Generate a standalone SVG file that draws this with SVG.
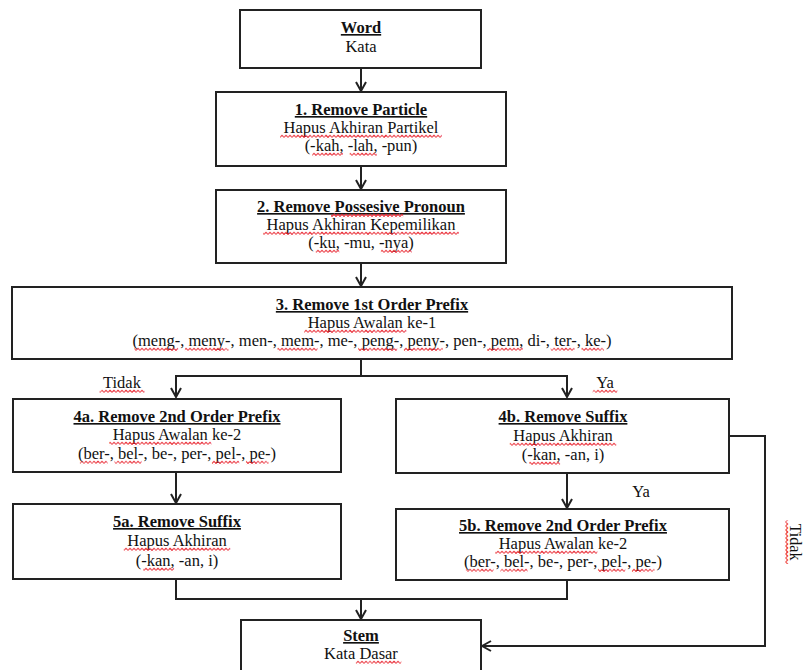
<svg xmlns="http://www.w3.org/2000/svg" xmlns:xlink="http://www.w3.org/1999/xlink" width="804" height="670" viewBox="0 0 804 670">
<style>
text{font-family:"Liberation Serif","Times New Roman",serif;font-size:16.5px;fill:var(--tf,#111);stroke:none;text-anchor:middle}
.t{font-weight:bold;text-decoration:underline}
.sp{stroke:url(#wv);stroke-width:var(--sw,0);text-decoration-line:var(--td,none)}
.sq{--tf:none;--sw:7px;--td:underline}
.box{fill:#fff;stroke:#222;stroke-width:2}
.ln{fill:none;stroke:#222;stroke-width:2}
</style>
<defs>
<marker id="ah" viewBox="0 0 12 12" refX="11" refY="6" markerWidth="12" markerHeight="12" markerUnits="userSpaceOnUse" orient="auto">
<path d="M2,1 L11,6 L2,11" fill="none" stroke="#222" stroke-width="2"/>
</marker>
<pattern id="wv" patternUnits="userSpaceOnUse" x="0" y="1.5" width="4" height="4">
<path d="M0,3 L2,0.8 L4,3" fill="none" stroke="#e8202a" stroke-width="0.9"/>
</pattern>
<clipPath id="c133"><rect x="0" y="134.5" width="804" height="4"/></clipPath>
<clipPath id="c151"><rect x="0" y="152.5" width="804" height="4"/></clipPath>
<clipPath id="c212"><rect x="0" y="213.5" width="804" height="4"/></clipPath>
<clipPath id="c230"><rect x="0" y="231.5" width="804" height="4"/></clipPath>
<clipPath id="c248"><rect x="0" y="249.5" width="804" height="4"/></clipPath>
<clipPath id="c328"><rect x="0" y="329.5" width="804" height="4"/></clipPath>
<clipPath id="c346"><rect x="0" y="347.5" width="804" height="4"/></clipPath>
<clipPath id="c388"><rect x="0" y="389.5" width="804" height="4"/></clipPath>
<clipPath id="c440"><rect x="0" y="441.5" width="804" height="4"/></clipPath>
<clipPath id="c441"><rect x="0" y="442.5" width="804" height="4"/></clipPath>
<clipPath id="c459"><rect x="0" y="460.5" width="804" height="4"/></clipPath>
<clipPath id="c460"><rect x="0" y="461.5" width="804" height="4"/></clipPath>
<clipPath id="c546"><rect x="0" y="547.5" width="804" height="4"/></clipPath>
<clipPath id="c566"><rect x="0" y="567.5" width="804" height="4"/></clipPath>
<clipPath id="c549"><rect x="0" y="550.5" width="804" height="4"/></clipPath>
<clipPath id="c567"><rect x="0" y="568.5" width="804" height="4"/></clipPath>
<clipPath id="c659"><rect x="0" y="660.5" width="804" height="4"/></clipPath>
<clipPath id="crot"><rect x="784.5" y="500" width="4" height="90"/></clipPath>
</defs>
<g id="connectors">
<path class="ln" d="M361,68 V91" marker-end="url(#ah)"/>
<path class="ln" d="M361,166 V189" marker-end="url(#ah)"/>
<path class="ln" d="M361,263 V286" marker-end="url(#ah)"/>
<path class="ln" d="M361,359 V376 H176 V397" marker-end="url(#ah)"/>
<path class="ln" d="M361,376 H567 V397" marker-end="url(#ah)"/>
<path class="ln" d="M176,472 V503" marker-end="url(#ah)"/>
<path class="ln" d="M567,473 V508" marker-end="url(#ah)"/>
<path class="ln" d="M176,579 V599 H567 V580"/>
<path class="ln" d="M361,599 V619" marker-end="url(#ah)"/>
<path class="ln" d="M729,436 H765 V646 H482" marker-end="url(#ah)"/>
<g id="lTidak" transform="translate(0,388)"><text x="122" y="0"><tspan class="sp">Tidak</tspan></text></g>
<g id="lYa" transform="translate(0,388)"><text x="605" y="0"><tspan class="sp">Ya</tspan></text></g>
<text x="641" y="497">Ya</text>
<g id="lTidak2" transform="translate(790,542) rotate(90)"><text x="0" y="0" style="font-size:16px"><tspan class="sp">Tidak</tspan></text></g>
</g>
<g id="n0">
<rect class="box" x="240" y="10" width="241" height="58"/>
<text x="361" y="33" class="t">Word</text>
<text x="361" y="52">Kata</text>
</g>
<g id="n1">
<rect class="box" x="216" y="92" width="290" height="74"/>
<text x="361" y="115" class="t">1. Remove Particle</text>
<g id="l133" transform="translate(0,133)"><text x="361" y="0"><tspan class="sp">Hapus</tspan> <tspan class="sp">Akhiran</tspan> <tspan class="sp">Partikel</tspan></text></g>
<g id="l151" transform="translate(0,151)"><text x="361" y="0">(-<tspan class="sp">kah</tspan>, -<tspan class="sp">lah</tspan>, -pun)</text></g>
</g>
<g id="n2">
<rect class="box" x="216" y="190" width="290" height="73"/>
<g id="l212" transform="translate(0,212)"><text x="361" y="0" class="t">2. Remove <tspan class="sp">Possesive</tspan> Pronoun</text></g>
<g id="l230" transform="translate(0,230)"><text x="361" y="0"><tspan class="sp">Hapus</tspan> <tspan class="sp">Akhiran</tspan> <tspan class="sp">Kepemilikan</tspan></text></g>
<g id="l248" transform="translate(0,248)"><text x="361" y="0">(-<tspan class="sp">ku</tspan>, -mu, -<tspan class="sp">nya</tspan>)</text></g>
</g>
<g id="n3">
<rect class="box" x="12" y="287" width="720" height="72"/>
<text x="372" y="310" class="t">3. Remove 1st Order Prefix</text>
<g id="l328" transform="translate(0,328)"><text x="372" y="0"><tspan class="sp">Hapus</tspan> <tspan class="sp">Awalan</tspan> ke-1</text></g>
<g id="l346" transform="translate(0,346)"><text x="372" y="0">(<tspan class="sp">meng</tspan>-, <tspan class="sp">meny</tspan>-, men-, <tspan class="sp">mem</tspan>-, me-, <tspan class="sp">peng</tspan>-, <tspan class="sp">peny</tspan>-, pen-, <tspan class="sp">pem</tspan>, di-, <tspan class="sp">ter</tspan>-, <tspan class="sp">ke</tspan>-)</text></g>
</g>
<g id="n4a">
<rect class="box" x="13" y="399" width="328" height="73"/>
<text x="177" y="422" class="t">4a. Remove 2nd Order Prefix</text>
<g id="l440a" transform="translate(0,440)"><text x="177" y="0"><tspan class="sp">Hapus</tspan> <tspan class="sp">Awalan</tspan> ke-2</text></g>
<g id="l459a" transform="translate(0,459)"><text x="177" y="0">(<tspan class="sp">ber</tspan>-, <tspan class="sp">bel</tspan>-, be-, per-, <tspan class="sp">pel</tspan>-, <tspan class="sp">pe</tspan>-)</text></g>
</g>
<g id="n4b">
<rect class="box" x="396" y="399" width="333" height="74"/>
<text x="563" y="422" class="t">4b. Remove Suffix</text>
<g id="l441b" transform="translate(0,441)"><text x="563" y="0"><tspan class="sp">Hapus</tspan> <tspan class="sp">Akhiran</tspan></text></g>
<g id="l460b" transform="translate(0,460)"><text x="563" y="0">(-<tspan class="sp">kan</tspan>, -an, i)</text></g>
</g>
<g id="n5a">
<rect class="box" x="13" y="504" width="328" height="75"/>
<text x="177" y="527" class="t">5a. Remove Suffix</text>
<g id="l546a" transform="translate(0,546)"><text x="177" y="0"><tspan class="sp">Hapus</tspan> <tspan class="sp">Akhiran</tspan></text></g>
<g id="l566a" transform="translate(0,566)"><text x="177" y="0">(-<tspan class="sp">kan</tspan>, -an, i)</text></g>
</g>
<g id="n5b">
<rect class="box" x="396" y="509" width="333" height="71"/>
<text x="563" y="531" class="t">5b. Remove 2nd Order Prefix</text>
<g id="l549b" transform="translate(0,549)"><text x="563" y="0"><tspan class="sp">Hapus</tspan> <tspan class="sp">Awalan</tspan> ke-2</text></g>
<g id="l567b" transform="translate(0,567)"><text x="563" y="0">(<tspan class="sp">ber</tspan>-, <tspan class="sp">bel</tspan>-, be-, per-, <tspan class="sp">pel</tspan>-, <tspan class="sp">pe</tspan>-)</text></g>
</g>
<g id="n6">
<rect class="box" x="241" y="620" width="240" height="60"/>
<text x="361" y="641" class="t">Stem</text>
<g id="l659" transform="translate(0,659)"><text x="361" y="0">Kata <tspan class="sp">Dasar</tspan></text></g>
</g>
<g id="spellcheck" class="sq">
<use xlink:href="#l133" href="#l133" clip-path="url(#c133)"/>
<use xlink:href="#l151" href="#l151" clip-path="url(#c151)"/>
<use xlink:href="#l212" href="#l212" clip-path="url(#c212)"/>
<use xlink:href="#l230" href="#l230" clip-path="url(#c230)"/>
<use xlink:href="#l248" href="#l248" clip-path="url(#c248)"/>
<use xlink:href="#l328" href="#l328" clip-path="url(#c328)"/>
<use xlink:href="#l346" href="#l346" clip-path="url(#c346)"/>
<use xlink:href="#lTidak" href="#lTidak" clip-path="url(#c388)"/>
<use xlink:href="#lYa" href="#lYa" clip-path="url(#c388)"/>
<use xlink:href="#lTidak2" href="#lTidak2" clip-path="url(#crot)"/>
<use xlink:href="#l440a" href="#l440a" clip-path="url(#c440)"/>
<use xlink:href="#l459a" href="#l459a" clip-path="url(#c459)"/>
<use xlink:href="#l441b" href="#l441b" clip-path="url(#c441)"/>
<use xlink:href="#l460b" href="#l460b" clip-path="url(#c460)"/>
<use xlink:href="#l546a" href="#l546a" clip-path="url(#c546)"/>
<use xlink:href="#l566a" href="#l566a" clip-path="url(#c566)"/>
<use xlink:href="#l549b" href="#l549b" clip-path="url(#c549)"/>
<use xlink:href="#l567b" href="#l567b" clip-path="url(#c567)"/>
<use xlink:href="#l659" href="#l659" clip-path="url(#c659)"/>
</g>
</svg>
